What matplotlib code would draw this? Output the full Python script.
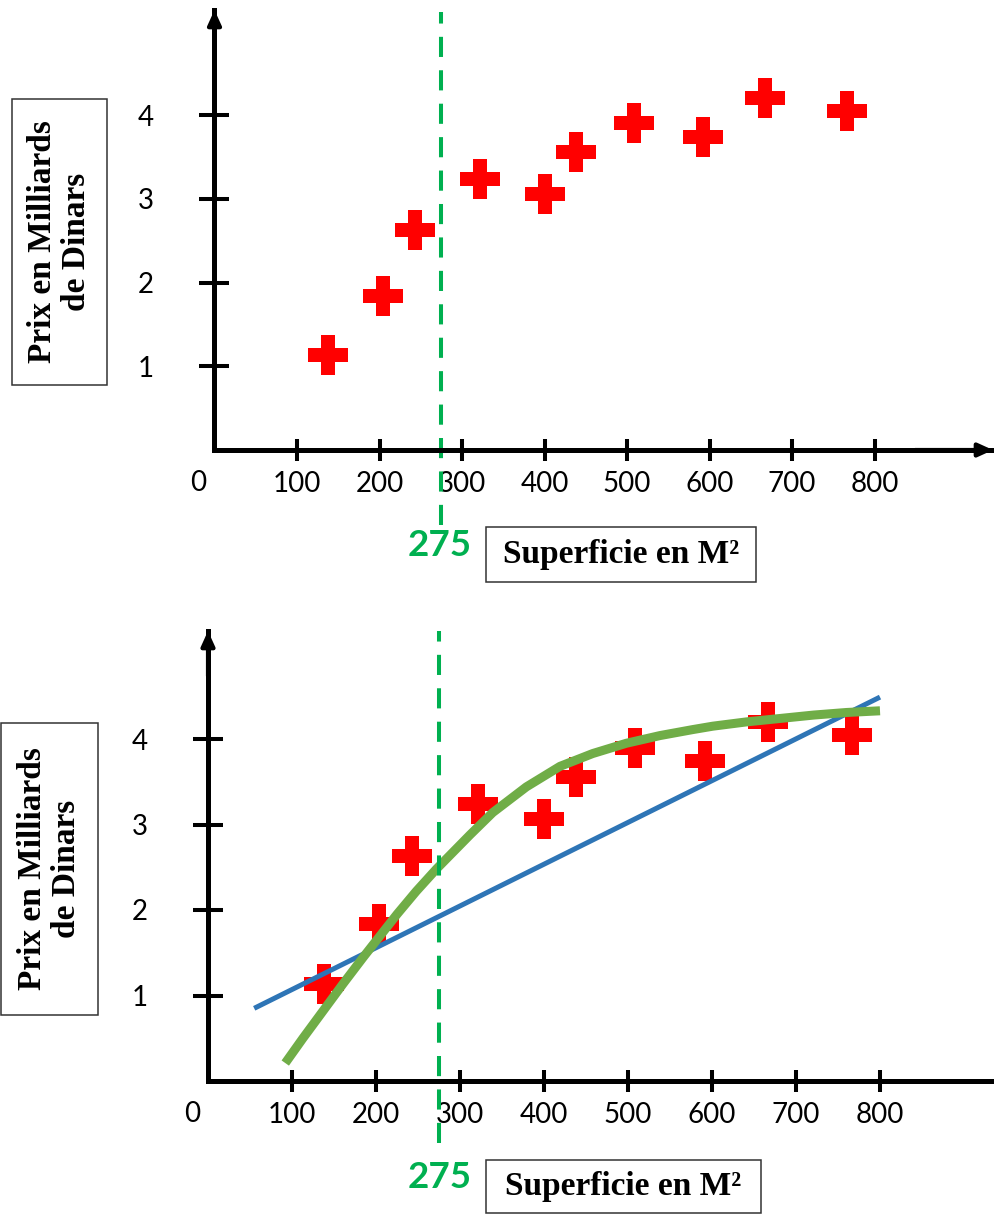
import matplotlib
matplotlib.use("Agg")
import matplotlib.pyplot as plt
from matplotlib.patches import Rectangle

# data
surface = [138, 204, 243, 322, 400, 438, 508, 592, 667, 767]
prix = [1.13, 1.84, 2.63, 3.24, 3.06, 3.56, 3.90, 3.74, 4.20, 4.05]
seuil = 275

# straight fit (blue) and curved fit (green), bottom chart
lin_x = [55, 800]
lin_y = [0.85, 4.49]
curve_x = [92, 113, 137, 161, 185, 201, 225, 248, 272, 296, 312, 339, 379,
           419, 458, 498, 538, 577, 601, 641, 681, 721, 760, 800]
curve_y = [0.21, 0.50, 0.82, 1.14, 1.45, 1.65, 1.95, 2.22, 2.48, 2.72, 2.88,
           3.14, 3.44, 3.68, 3.83, 3.95, 4.04, 4.11, 4.15, 4.20, 4.24, 4.28,
           4.31, 4.33]

x_ticks = [100, 200, 300, 400, 500, 600, 700, 800]
y_ticks = [1, 2, 3, 4]
ylabel = "Prix en Milliards\nde Dinars"
xlabel = "Superficie en M²"

W, H = 995, 1216
RED = "#FF0000"
GREEN_DASH = "#00B050"
GREEN = "#70AD47"
BLUE = "#2E75B6"
ARROW = "-|>,head_length=0.55,head_width=0.25"

fig = plt.figure(figsize=(W / 100, H / 100), dpi=100)


def frac(px, py):
    return px / W, 1 - py / H


def make_axes(left, right, bottom, top, x_per100, y_per1, arrow_x):
    x0, y0 = frac(left, bottom)
    ax = fig.add_axes([x0, y0, (right - left) / W, (bottom - top) / H])
    ax.set_xlim(0, (right - left) / x_per100 * 100)
    ax.set_ylim(0, (bottom - top) / y_per1)
    ax.patch.set_alpha(0)
    for s in ["top", "right"]:
        ax.spines[s].set_visible(False)
    for s in ["left", "bottom"]:
        ax.spines[s].set_linewidth(3.6)
    ax.set_xticks(x_ticks)
    ax.set_yticks(y_ticks)
    ax.tick_params(axis="y", direction="inout", length=21, width=2.9, pad=33,
                   labelsize=20, labelfontfamily="Lato")
    ax.tick_params(axis="x", direction="inout", length=16, width=2.9, pad=7,
                   labelsize=20, labelfontfamily="Lato")
    ax.annotate("", xy=(0, 1), xytext=(0, 0.9), xycoords="axes fraction",
                arrowprops=dict(arrowstyle=ARROW, lw=3.0, color="black",
                                mutation_scale=16, shrinkA=0, shrinkB=0))
    if arrow_x:
        ax.annotate("", xy=(1, 0), xytext=(0.9, 0), xycoords="axes fraction",
                    arrowprops=dict(arrowstyle=ARROW, lw=3.0, color="black",
                                    mutation_scale=16, shrinkA=0, shrinkB=0))
    ax.annotate("0", xy=(0, 0), xytext=(-11.5, -24), textcoords="offset points",
                ha="center", va="center", fontsize=20, family="Lato")
    return ax


def label_box(x1, y1, x2, y2, text, rot):
    bx, by = frac(x1, y2)
    fig.patches.append(Rectangle((bx, by), (x2 - x1) / W, (y2 - y1) / H,
                                 transform=fig.transFigure, fill=False,
                                 ec="#333333", lw=1.1))
    cx, cy = frac((x1 + x2) / 2, (y1 + y2) / 2)
    fig.text(cx, cy, text, rotation=rot, ha="center", va="center",
             fontsize=24, fontweight="bold", family="Liberation Serif",
             linespacing=1.15, multialignment="center")


def draw_points(ax):
    ax.plot(surface, prix, linestyle="none", marker="P", markersize=29.5,
            color=RED, markeredgewidth=0, zorder=3)


# top chart: points only
ax1 = make_axes(214.5, 993, 450, 10, 82.5, 83.75, True)
draw_points(ax1)
ax1.axvline(seuil, ymin=-0.17, ymax=0.995, color=GREEN_DASH, lw=2.9,
            linestyle=(0, (5, 3.3)), clip_on=False, zorder=2)

# bottom chart: points with both fits
ax2 = make_axes(208, 995, 1081, 631, 84, 85.5, False)
draw_points(ax2)
ax2.plot(lin_x, lin_y, color=BLUE, lw=3.6, solid_capstyle="butt", zorder=4)
ax2.plot(curve_x, curve_y, color=GREEN, lw=6.5, solid_capstyle="butt",
         solid_joinstyle="round", zorder=5)
ax2.axvline(seuil, ymin=-0.138, ymax=1.0, color=GREEN_DASH, lw=2.9,
            linestyle=(0, (5, 3.3)), clip_on=False, zorder=6)

# axis title boxes and threshold labels
label_box(12, 99, 107, 385, ylabel, 90)
label_box(1, 723, 98, 1015, ylabel, 90)
label_box(486, 527, 756, 582, xlabel, 0)
label_box(486, 1160, 761, 1213, xlabel, 0)
for py in [545, 1178]:
    tx, ty = frac(440, py)
    fig.text(tx, ty, str(seuil), ha="center", va="center", fontsize=26.5,
             fontweight="bold", family="Lato", color=GREEN_DASH)

fig.savefig("out.png", dpi=100)
